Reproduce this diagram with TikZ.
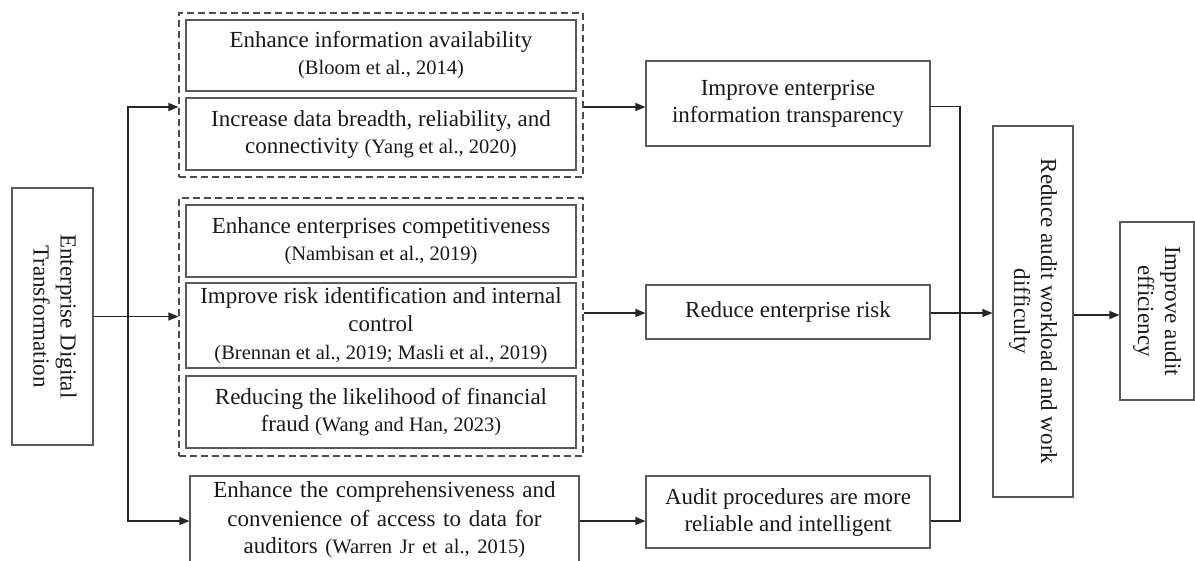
\documentclass[tikz,border=0pt]{standalone}
\usepackage{fontspec}
\setmainfont{Liberation Serif}
\usepackage{graphicx}
\usetikzlibrary{arrows.meta}
\newcommand\citsz{\fontsize{20.5}{27}\selectfont}
\newcommand\mainsz{\fontsize{23}{27}\selectfont}
\begin{document}
\begin{tikzpicture}[x=1pt,y=-1pt,
  box/.style={draw=black!65,line width=1.1pt,inner sep=0pt,align=center,font=\mainsz,text=black!90},
  dbox/.style={draw=black!70,line width=1.1pt,dash pattern=on 7pt off 4pt,inner sep=0pt},
  arr/.style={draw=black!85,line width=1.1pt,-{Triangle[length=10pt,width=8pt]}},
  ln/.style={draw=black!85,line width=1.1pt}]
\useasboundingbox (0,0) rectangle (1195,560);

% left box
\node[box,minimum width=81pt,minimum height=257pt] (edt) at (52.5,316.5)
  {\rotatebox{-90}{\begin{tabular}{@{}c@{}}Enterprise Digital\\Transformation\end{tabular}}};

% dashed groups
\node[dbox,minimum width=404pt,minimum height=164pt] (d1) at (381,95) {};
\node[dbox,minimum width=404pt,minimum height=258pt] (d2) at (381,327) {};

% inner boxes
\node[box,minimum width=390pt,minimum height=71pt] (b1) at (381,55.5)
  {Enhance information availability\\{\citsz (Bloom et al., 2014)}};
\node[box,minimum width=390pt,minimum height=72pt] (b2) at (381,134)
  {Increase data breadth, reliability, and\\connectivity {\citsz (Yang et al., 2020)}};
\node[box,minimum width=390pt,minimum height=72pt] (b3) at (381,241)
  {Enhance enterprises competitiveness\\{\citsz (Nambisan et al., 2019)}};
\node[box,minimum width=390pt,minimum height=85pt] (b4) at (381,325.5)
  {Improve risk identification and internal\\[1pt]control\\[1pt]{\citsz (Brennan et al., 2019; Masli et al., 2019)}};
\node[box,minimum width=390pt,minimum height=72pt] (b5) at (381,412)
  {Reducing the likelihood of financial\\fraud {\citsz (Wang and Han, 2023)}};
\node[box,text width=389pt,minimum height=88pt] (acc) at (384.5,520)
  {Enhance the comprehensiveness and\\[2pt]convenience of access to data for\\auditors {\citsz (Warren Jr et al., 2015)}};

% middle column
\node[box,minimum width=284pt,minimum height=85pt] (tr) at (788,103.5)
  {Improve enterprise\\information transparency};
\node[box,minimum width=284pt,minimum height=54pt] (risk) at (788,312)
  {Reduce enterprise risk};
\node[box,minimum width=284pt,minimum height=72pt] (proc) at (788,512)
  {Audit procedures are more\\reliable and intelligent};

% right column
\node[box,minimum width=80pt,minimum height=371pt] (red) at (1033,311.5)
  {\rotatebox{-90}{\begin{tabular}{@{}c@{}}Reduce audit workload and work\\difficulty\end{tabular}}};
\node[box,minimum width=74pt,minimum height=178pt] (eff) at (1157,311)
  {\rotatebox{-90}{\begin{tabular}{@{}c@{}}Improve audit\\efficiency\end{tabular}}};

% connectors
\coordinate (j) at (128,316.5);
\coordinate (ya) at (0,107);
\coordinate (yb) at (0,313);
\coordinate (yc) at (0,521);
\coordinate (yd) at (0,315);
\coordinate (kt) at (960,106.5);
\coordinate (kb) at (960,521);

\draw[arr] (edt.east) -- (edt.east -| d2.west);
\draw[arr] (j) |- (d1.west |- ya);
\draw[arr] (j) |- (acc.west |- yc);
\draw[arr] (d1.east |- ya) -- (tr.west |- ya);
\draw[arr] (d2.east |- yb) -- (risk.west |- yb);
\draw[arr] (acc.east |- yc) -- (proc.west |- yc);
\draw[ln] (tr.east |- kt) -- (kt) -- (kb) -- (proc.east |- kb);
\draw[arr] (risk.east |- yb) -- (red.west |- yb);
\draw[arr] (red.east |- yd) -- (eff.west |- yd);
\end{tikzpicture}
\end{document}
